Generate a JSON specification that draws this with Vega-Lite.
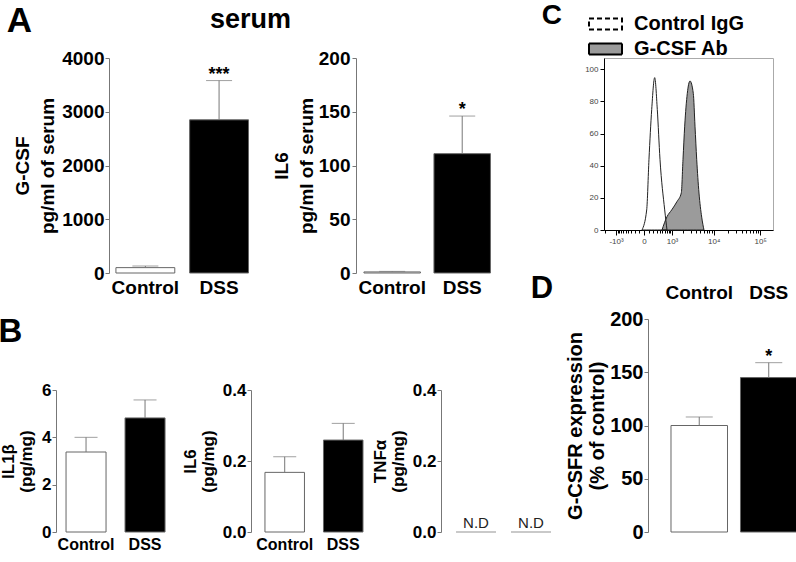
{
  "$schema": "https://vega.github.io/schema/vega-lite/v6.json",
  "background": "white",
  "padding": {"left": -2, "top": 1, "right": 0, "bottom": 0},
  "config": {
    "font": "Liberation Sans",
    "view": {"stroke": null},
    "axis": {"labelFont": "Liberation Sans", "labelFontWeight": "bold", "labelColor": "black", "titleFont": "Liberation Sans", "titleFontWeight": "bold", "titleColor": "black", "domainColor": "#777", "tickColor": "#777", "grid": false},
    "title": {"font": "Liberation Sans", "fontWeight": "bold", "color": "black"},
    "legend": {"labelFont": "Liberation Sans"}
  },
  "datasets": {
    "gcsf": [
      {"group": "Control", "mean": 100, "upper": 130, "sig": ""},
      {"group": "DSS", "mean": 2850, "upper": 3580, "sig": "***"}
    ],
    "il6serum": [
      {"group": "Control", "mean": 1, "upper": 1.5, "sig": ""},
      {"group": "DSS", "mean": 111, "upper": 146, "sig": "*"}
    ],
    "il1b": [
      {"group": "Control", "mean": 3.38, "upper": 4.0},
      {"group": "DSS", "mean": 4.82, "upper": 5.58}
    ],
    "il6colon": [
      {"group": "Control", "mean": 0.168, "upper": 0.212},
      {"group": "DSS", "mean": 0.259, "upper": 0.306}
    ],
    "tnfa": [
      {"group": "Control", "value": 0, "label": "N.D"},
      {"group": "DSS", "value": 0, "label": "N.D"}
    ],
    "gcsfr": [
      {"group": "Control", "mean": 100, "upper": 108, "sig": ""},
      {"group": "DSS", "mean": 145, "upper": 159, "sig": "*"}
    ],
    "flow": [
      {"sample": "G-CSF Ab", "x": 481, "y": 0},
      {"sample": "G-CSF Ab", "x": 709, "y": 8.3},
      {"sample": "G-CSF Ab", "x": 980, "y": 12.5},
      {"sample": "G-CSF Ab", "x": 1371, "y": 17.7},
      {"sample": "G-CSF Ab", "x": 1772, "y": 23},
      {"sample": "G-CSF Ab", "x": 1956, "y": 44},
      {"sample": "G-CSF Ab", "x": 2155, "y": 64.6},
      {"sample": "G-CSF Ab", "x": 2494, "y": 85},
      {"sample": "G-CSF Ab", "x": 2894, "y": 92.7},
      {"sample": "G-CSF Ab", "x": 3461, "y": 85},
      {"sample": "G-CSF Ab", "x": 3792, "y": 64.6},
      {"sample": "G-CSF Ab", "x": 4151, "y": 44},
      {"sample": "G-CSF Ab", "x": 4685, "y": 23},
      {"sample": "G-CSF Ab", "x": 5396, "y": 8},
      {"sample": "G-CSF Ab", "x": 6079, "y": 0},
      {"sample": "Control IgG", "x": -35, "y": 0},
      {"sample": "Control IgG", "x": 48, "y": 12.5},
      {"sample": "Control IgG", "x": 94, "y": 44},
      {"sample": "Control IgG", "x": 156, "y": 75},
      {"sample": "Control IgG", "x": 234, "y": 94.8},
      {"sample": "Control IgG", "x": 312, "y": 75},
      {"sample": "Control IgG", "x": 404, "y": 44},
      {"sample": "Control IgG", "x": 597, "y": 12.5},
      {"sample": "Control IgG", "x": 709, "y": 0}
    ]
  },
  "concat": [
    {
      "concat": [
        {
          "bounds": "flush",
          "spacing": 20,
          "hconcat": [
            {
              "width": 280, "height": 215,
              "data": {"name": "gcsf"},
              "title": {"text": "A", "anchor": "start", "fontSize": 35, "dx": -7, "offset": 10.5},
              "encoding": {
                "x": {"field": "group", "type": "nominal", "sort": ["Control", "DSS"], "scale": {"paddingInner": 0.2014, "paddingOuter": 1.115, "align": 0.4065}, "axis": {"title": null, "domain": false, "ticks": false, "tickSize": 0, "labelAngle": 0, "labelFontSize": 19, "labelPadding": 5}}
              },
              "layer": [
                {"mark": {"type": "bar", "stroke": "#666", "strokeWidth": 1},
                 "encoding": {
                   "y": {"field": "mean", "type": "quantitative", "scale": {"domain": [0, 4000], "nice": false}, "axis": {"offset": -53, "values": [0, 1000, 2000, 3000, 4000], "format": "d", "title": ["G-CSF", "pg/ml of serum"], "titleFontSize": 19, "titleLineHeight": 25, "titlePadding": 4, "labelFontSize": 19, "labelPadding": 1, "tickSize": 4}},
                   "fill": {"field": "group", "type": "nominal", "scale": {"domain": ["Control", "DSS"], "range": ["white", "black"]}, "legend": null}}},
                {"mark": {"type": "rule", "color": "#777"}, "encoding": {"y": {"field": "mean", "type": "quantitative"}, "y2": {"field": "upper"}}},
                {"mark": {"type": "tick", "color": "#777", "size": 26, "thickness": 1}, "encoding": {"y": {"field": "upper", "type": "quantitative"}}},
                {"mark": {"type": "text", "fontSize": 18, "fontWeight": "bold", "dy": -6}, "encoding": {"y": {"field": "upper", "type": "quantitative"}, "text": {"field": "sig"}}}
              ]
            },
            {
              "width": 145, "height": 215,
              "data": {"name": "il6serum"},
              "title": {"text": "serum", "fontSize": 27, "anchor": "start", "frame": "group", "dx": -146, "offset": 15},
              "encoding": {
                "x": {"field": "group", "type": "nominal", "sort": ["Control", "DSS"], "scale": {"paddingInner": 0.193, "paddingOuter": 0.132, "align": 0.43}, "axis": {"title": null, "domain": false, "ticks": false, "tickSize": 0, "labelAngle": 0, "labelFontSize": 19, "labelPadding": 5}}
              },
              "layer": [
                {"mark": {"type": "bar", "stroke": "#666", "strokeWidth": 1},
                 "encoding": {
                   "y": {"field": "mean", "type": "quantitative", "scale": {"domain": [0, 200], "nice": false}, "axis": {"values": [0, 50, 100, 150, 200], "title": ["IL6", "pg/ml of serum"], "titleFontSize": 19, "titleLineHeight": 25, "titlePadding": 2, "labelFontSize": 19, "labelPadding": 2, "tickSize": 4}},
                   "fill": {"field": "group", "type": "nominal", "scale": {"domain": ["Control", "DSS"], "range": ["white", "black"]}, "legend": null}}},
                {"mark": {"type": "rule", "color": "#777"}, "encoding": {"y": {"field": "mean", "type": "quantitative"}, "y2": {"field": "upper"}}},
                {"mark": {"type": "tick", "color": "#777", "size": 26, "thickness": 1}, "encoding": {"y": {"field": "upper", "type": "quantitative"}}},
                {"mark": {"type": "text", "fontSize": 18, "fontWeight": "bold", "dy": -6}, "encoding": {"y": {"field": "upper", "type": "quantitative"}, "text": {"field": "sig"}}}
              ]
            }
          ]
        },
        {
          "bounds": "flush",
          "spacing": 20,
          "hconcat": [
            {
              "width": 175, "height": 142,
              "data": {"name": "il1b"},
              "title": {"text": "B", "anchor": "start", "fontSize": 33, "dx": -1, "offset": 32},
              "encoding": {
                "x": {"field": "group", "type": "nominal", "sort": ["Control", "DSS"], "scale": {"paddingInner": 0.322, "paddingOuter": 0.644, "align": 0.132}, "axis": {"title": null, "domain": false, "ticks": false, "tickSize": 0, "labelAngle": 0, "labelFontSize": 16, "labelPadding": 4}}
              },
              "layer": [
                {"mark": {"type": "bar", "stroke": "#666", "strokeWidth": 1},
                 "encoding": {
                   "y": {"field": "mean", "type": "quantitative", "scale": {"domain": [0, 6], "nice": false}, "axis": {"values": [0, 2, 4, 6], "title": ["IL1β", "(pg/mg)"], "titleFontSize": 17, "titleLineHeight": 18, "titlePadding": 6, "labelFontSize": 17, "labelPadding": 1, "tickSize": 4}},
                   "fill": {"field": "group", "type": "nominal", "scale": {"domain": ["Control", "DSS"], "range": ["white", "black"]}, "legend": null}}},
                {"mark": {"type": "rule", "color": "#777"}, "encoding": {"y": {"field": "mean", "type": "quantitative"}, "y2": {"field": "upper"}}},
                {"mark": {"type": "tick", "color": "#777", "size": 23, "thickness": 1}, "encoding": {"y": {"field": "upper", "type": "quantitative"}}}
              ]
            },
            {
              "width": 170, "height": 142,
              "data": {"name": "il6colon"},
              "encoding": {
                "x": {"field": "group", "type": "nominal", "sort": ["Control", "DSS"], "scale": {"paddingInner": 0.325, "paddingOuter": 0.615, "align": 0.194}, "axis": {"title": null, "domain": false, "ticks": false, "tickSize": 0, "labelAngle": 0, "labelFontSize": 16, "labelPadding": 4}}
              },
              "layer": [
                {"mark": {"type": "bar", "stroke": "#666", "strokeWidth": 1},
                 "encoding": {
                   "y": {"field": "mean", "type": "quantitative", "scale": {"domain": [0, 0.4], "nice": false}, "axis": {"values": [0, 0.1, 0.2, 0.3, 0.4], "format": ".1f", "title": ["IL6", "(pg/mg)"], "titleFontSize": 17, "titleLineHeight": 18, "titlePadding": 5, "labelFontSize": 17, "labelPadding": 1, "tickSize": 4}},
                   "fill": {"field": "group", "type": "nominal", "scale": {"domain": ["Control", "DSS"], "range": ["white", "black"]}, "legend": null}}},
                {"mark": {"type": "rule", "color": "#777"}, "encoding": {"y": {"field": "mean", "type": "quantitative"}, "y2": {"field": "upper"}}},
                {"mark": {"type": "tick", "color": "#777", "size": 23, "thickness": 1}, "encoding": {"y": {"field": "upper", "type": "quantitative"}}}
              ]
            },
            {
              "width": 115, "height": 142,
              "data": {"name": "tnfa"},
              "encoding": {
                "x": {"field": "group", "type": "nominal", "sort": ["Control", "DSS"], "scale": {"paddingInner": 0.273, "paddingOuter": 0.182, "align": 0.75}, "axis": null}
              },
              "layer": [
                {"mark": {"type": "tick", "color": "#666", "size": 40, "thickness": 1},
                 "encoding": {
                   "y": {"field": "value", "type": "quantitative", "scale": {"domain": [0, 0.4], "nice": false}, "axis": {"values": [0, 0.1, 0.2, 0.3, 0.4], "format": ".1f", "title": ["TNFα", "(pg/mg)"], "titleFontSize": 17, "titleLineHeight": 18, "titlePadding": 5, "labelFontSize": 17, "labelPadding": 1, "tickSize": 4}}}},
                {"mark": {"type": "text", "fontSize": 15, "color": "#222", "baseline": "alphabetic", "dy": -4},
                 "encoding": {"y": {"field": "value", "type": "quantitative"}, "text": {"field": "label"}}}
              ]
            }
          ]
        }
      ],
      "columns": 1,
      "spacing": 19
    },
    {
      "vconcat": [
        {
          "width": 169, "height": 172,
          "view": {"stroke": "#aaa", "strokeWidth": 1},
          "data": {"name": "flow"},
          "title": {"text": "C", "anchor": "start", "fontSize": 28, "dx": -43, "dy": -28, "offset": 0},
          "mark": {"type": "area", "interpolate": "monotone", "stroke": "#222", "strokeWidth": 1},
          "encoding": {
            "x": {"field": "x", "type": "quantitative",
                  "scale": {"type": "symlog", "constant": 340, "domain": [-2070, 188000], "nice": false, "zero": false},
                  "axis": {"title": null,
                           "values": [-2000, -1000, -900, -800, -700, -600, -500, -400, -300, -200, -100, 0, 100, 200, 300, 400, 500, 600, 700, 800, 900, 1000, 2000, 3000, 4000, 5000, 6000, 7000, 8000, 9000, 10000, 20000, 30000, 40000, 50000, 60000, 70000, 80000, 90000, 100000],
                           "labelExpr": "datum.value == -1000 ? '-10³' : datum.value == 0 ? '0' : datum.value == 1000 ? '10³' : datum.value == 10000 ? '10⁴' : datum.value == 100000 ? '10⁵' : ''",
                           "labelOverlap": false, "labelBound": false, "labelFlush": false,
                           "labelFontSize": 8, "labelFontWeight": "normal", "labelColor": "#444", "labelPadding": 2,
                           "domainColor": "black", "tickColor": "black",
                           "tickSize": {"condition": {"test": "datum.value == -1000 || datum.value == 0 || datum.value == 1000 || datum.value == 10000 || datum.value == 100000", "value": 5}, "value": 3}}},
            "y": {"field": "y", "type": "quantitative", "stack": null,
                  "scale": {"domain": [0, 107], "nice": false},
                  "axis": {"title": null, "values": [0, 20, 40, 60, 80, 100], "labelFontSize": 8, "labelFontWeight": "normal", "labelColor": "#444", "labelPadding": 2, "domainColor": "black", "tickColor": "black", "tickSize": 4}},
            "color": {"field": "sample", "type": "nominal",
                      "scale": {"domain": ["Control IgG", "G-CSF Ab"], "range": ["transparent", "#9b9b9b"]},
                      "legend": {"title": null, "orient": "none", "legendX": 537.5, "legendY": -46, "symbolType": "M-1.5,-0.5H1.5V0.5H-1.5Z", "symbolSize": 484, "symbolStrokeColor": "black", "symbolStrokeWidth": 2, "labelFontSize": 20, "labelFontWeight": "bold", "labelColor": "black", "labelOffset": 16.5, "rowPadding": 3, "padding": 0,
                                 "encode": {"symbols": {"update": {"strokeDash": {"signal": "datum.value == 'Control IgG' ? [5, 3] : [1, 0]"}}}}}},
            "strokeDash": {"field": "sample", "type": "nominal",
                           "scale": {"domain": ["Control IgG", "G-CSF Ab"], "range": [[2, 2], [1, 0]]},
                           "legend": null}
          }
        },
        {
          "width": 193, "height": 213,
          "data": {"name": "gcsfr"},
          "title": {"text": "D", "anchor": "start", "fontSize": 31, "dx": -35, "dy": 22, "offset": 0},
          "encoding": {
            "x": {"field": "group", "type": "nominal", "sort": ["Control", "DSS"], "scale": {"paddingInner": 0.187, "paddingOuter": 0.482, "align": 1}, "axis": {"orient": "top", "title": null, "domain": false, "ticks": false, "tickSize": 0, "labelAngle": 0, "labelFontSize": 19, "labelPadding": 17}}
          },
          "layer": [
            {"mark": {"type": "bar", "stroke": "#666", "strokeWidth": 1},
             "encoding": {
               "y": {"field": "mean", "type": "quantitative", "scale": {"domain": [0, 200], "nice": false}, "axis": {"offset": -44, "values": [0, 50, 100, 150, 200], "title": ["G-CSFR expression", "(% of control)"], "titleFontSize": 20, "titleLineHeight": 22, "titlePadding": 2, "labelFontSize": 20, "labelPadding": 1, "tickSize": 4}},
               "fill": {"field": "group", "type": "nominal", "scale": {"domain": ["Control", "DSS"], "range": ["white", "black"]}, "legend": null}}},
            {"mark": {"type": "rule", "color": "#777"}, "encoding": {"y": {"field": "mean", "type": "quantitative"}, "y2": {"field": "upper"}}},
            {"mark": {"type": "tick", "color": "#777", "size": 27, "thickness": 1}, "encoding": {"y": {"field": "upper", "type": "quantitative"}}},
            {"mark": {"type": "text", "fontSize": 18, "fontWeight": "bold", "dy": -6}, "encoding": {"y": {"field": "upper", "type": "quantitative"}, "text": {"field": "sig"}}}
          ]
        }
      ],
      "bounds": "flush",
      "spacing": 89
    }
  ],
  "columns": 2,
  "spacing": {"column": -26, "row": 0}
}
